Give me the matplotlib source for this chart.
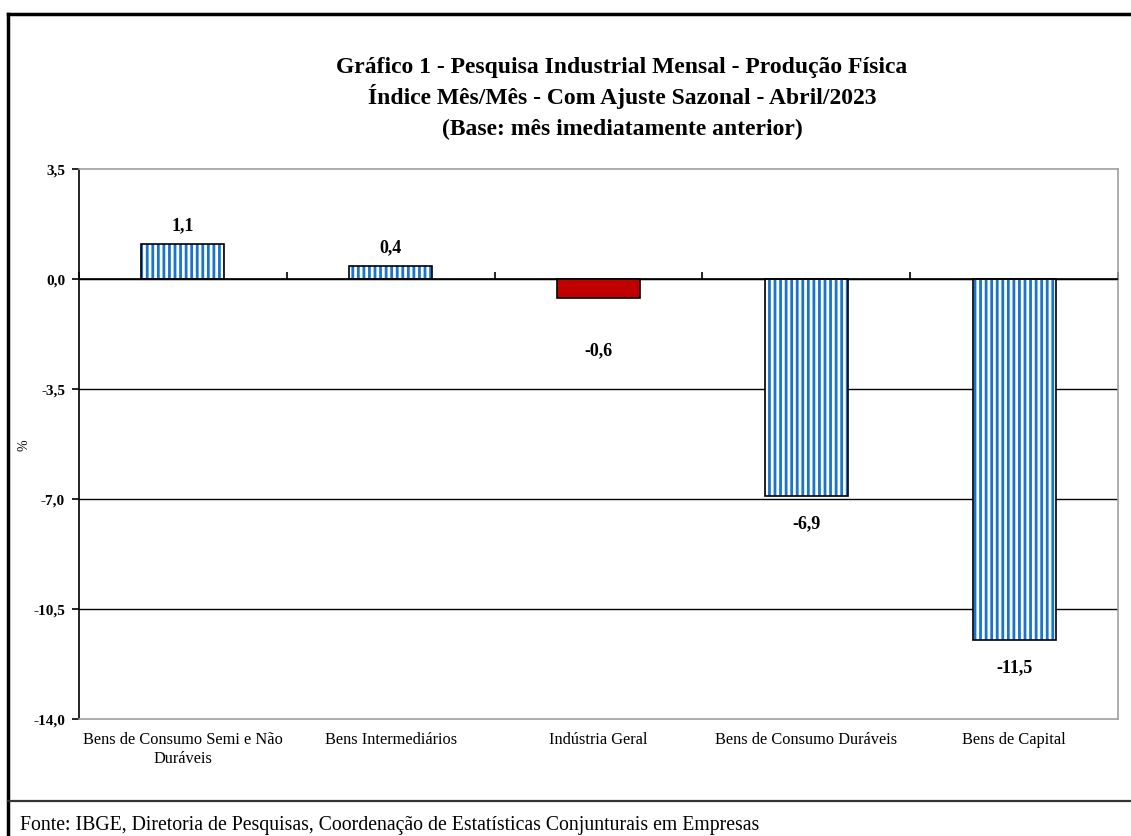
import matplotlib
matplotlib.use("Agg")
import matplotlib.pyplot as plt
from matplotlib.lines import Line2D

plt.rcParams["font.family"] = ["Liberation Serif", "DejaVu Serif"]
plt.rcParams["hatch.linewidth"] = 2.0

# data
categories = ["Bens de Consumo Semi e Não\nDuráveis", "Bens Intermediários",
              "Indústria Geral", "Bens de Consumo Duráveis", "Bens de Capital"]
values = [1.1, 0.4, -0.6, -6.9, -11.5]
yticks = [3.5, 0.0, -3.5, -7.0, -10.5, -14.0]
highlight = "Indústria Geral"
title_lines = ["Gráfico 1 - Pesquisa Industrial Mensal - Produção Física",
               "Índice Mês/Mês - Com Ajuste Sazonal - Abril/2023",
               "(Base: mês imediatamente anterior)"]
source = "Fonte: IBGE, Diretoria de Pesquisas, Coordenação de Estatísticas Conjunturais em Empresas"

blue = "#1874CD"
red = "#C00000"

fig = plt.figure(figsize=(11.31, 8.37), dpi=100)
ax = fig.add_axes([0.0698, 0.1398, 0.9187, 0.6571])

x = list(range(len(categories)))
for i, (cat, v) in enumerate(zip(categories, values)):
    if cat == highlight:
        ax.bar(i, v, width=0.4, color=red, edgecolor="black", linewidth=1.2, zorder=3)
    else:
        # striped fill, then a black outline on top
        ax.bar(i, v, width=0.4, color="white", edgecolor=blue, hatch="|||", linewidth=0, zorder=3)
        ax.bar(i, v, width=0.4, fill=False, edgecolor="black", linewidth=1.2, zorder=4)
    lab = f"{v:.1f}".replace(".", ",")
    if v >= 0:
        off = 14
    elif cat == highlight:
        off = -37
    else:
        off = -19
    ax.annotate(lab, (i, v), xytext=(0, off), textcoords="offset points",
                ha="center", va="center", fontsize=13, fontweight="bold")

ax.set_xlim(-0.5, len(categories) - 0.5)
ax.set_ylim(yticks[-1], yticks[0])
ax.set_yticks(yticks)
ax.set_yticklabels([f"{t:.1f}".replace(".", ",") for t in yticks], fontsize=11, fontweight="bold")
ax.set_xticks(x)
ax.set_xticklabels(categories, fontsize=11.8)
ax.tick_params(axis="x", length=0, pad=9)
ax.tick_params(axis="y", length=5, pad=5, width=1.2)

# horizontal gridlines and zero line
for t in yticks[1:-1]:
    ax.axhline(t, color="black", linewidth=1.0, zorder=1)
ax.axhline(0, color="black", linewidth=1.2, zorder=5)

# category-boundary tick marks on the zero line
sec = ax.secondary_xaxis((0 - yticks[-1]) / (yticks[0] - yticks[-1]))
sec.set_xticks([i - 0.5 for i in range(len(categories) + 1)])
sec.set_xticklabels([])
sec.tick_params(length=5, width=1.2, direction="out")
sec.spines["bottom"].set_visible(False)

for s in ["top", "right", "bottom"]:
    ax.spines[s].set_color("#a0a0a0")
    ax.spines[s].set_linewidth(1.2)
ax.spines["left"].set_color("black")
ax.spines["left"].set_linewidth(1.2)

ax.set_ylabel("%", fontsize=10)
ax.yaxis.set_label_coords(-0.047, 0.5)

# title, one line at a time so the spacing stays even
for k, line in enumerate(title_lines):
    fig.text(0.55, 1 - (73 + 31 * k) / 837, line, ha="center", va="baseline",
             fontsize=17, fontweight="bold")

fig.text(20 / 1131, 7 / 837, source, ha="left", va="baseline", fontsize=14.2)

# outer frame
fig.add_artist(Line2D([8 / 1131, 8 / 1131], [0, 1 - 15 / 837], color="black", linewidth=2.5))
fig.add_artist(Line2D([8 / 1131, 1], [1 - 15 / 837, 1 - 15 / 837], color="black", linewidth=2.5))
fig.add_artist(Line2D([8 / 1131, 1], [1 - 802 / 837, 1 - 802 / 837], color="#333333", linewidth=1.6))

fig.savefig("out.png", dpi=100)
